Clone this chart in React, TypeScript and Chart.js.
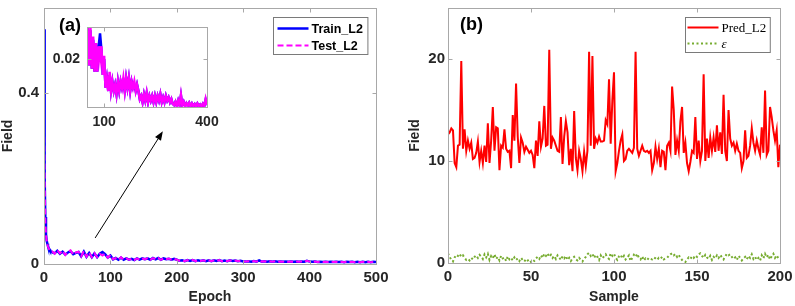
import React, { useEffect, useRef } from 'react';
import { Chart, registerables } from 'chart.js';
Chart.register(...registerables);

// ---------- data: panel (a) ----------
const epochs = [
  0, 1, 2, 3, 4, 5, 6, 7, 8, 9, 10,
  12, 16, 20, 24, 28, 32, 36, 40, 44, 48,
  52, 56, 60, 64, 68, 72, 76, 80, 84, 88, 92, 96, 100,
  104, 108, 112, 116, 120, 124, 128, 132, 136, 140, 144, 148, 152, 156, 160, 164, 168, 172, 176, 180, 184, 188, 192, 196, 200,
  204, 208, 212, 216, 220, 224, 228, 232, 236, 240, 244, 248, 252, 256, 260, 264, 268, 272, 276, 280, 284, 288, 292, 296, 300,
  304, 308, 312, 316, 320, 324, 328, 332, 336, 340, 344, 348, 352, 356, 360, 364, 368, 372, 376, 380, 384, 388, 392, 396, 400,
  404, 408, 412, 416, 420, 424, 428, 432, 436, 440, 444, 448, 452, 456, 460, 464, 468, 472, 476, 480, 484, 488, 492, 496, 500,
];
const trainL2 = [
  0.55, 0.2, 0.11, 0.07, 0.055, 0.048, 0.042, 0.038, 0.035, 0.032, 0.03,
  0.028, 0.025, 0.031, 0.024, 0.029, 0.022, 0.027, 0.03, 0.023, 0.026,
  0.028, 0.018, 0.029, 0.017, 0.026, 0.016, 0.025, 0.016, 0.024, 0.028, 0.023, 0.015, 0.02,
  0.011, 0.014, 0.01, 0.015, 0.01, 0.013, 0.01, 0.012, 0.009, 0.013, 0.01, 0.013, 0.011, 0.013, 0.01, 0.014, 0.011, 0.014, 0.01, 0.013, 0.011, 0.012, 0.01, 0.012, 0.01,
  0.0075, 0.0085, 0.0065, 0.009, 0.007, 0.0093, 0.0065, 0.0085, 0.007, 0.0085, 0.0065, 0.0085, 0.0065, 0.0085, 0.007, 0.009, 0.0065, 0.008, 0.0065, 0.0085, 0.007, 0.008, 0.0065, 0.0075, 0.006,
  0.0056, 0.0066, 0.0053, 0.007, 0.0056, 0.0086, 0.0056, 0.0066, 0.0053, 0.0062, 0.0054, 0.0063, 0.0053, 0.0061, 0.0053, 0.0059, 0.0052, 0.0061, 0.0053, 0.0058, 0.0052, 0.006, 0.0053, 0.0073, 0.0056,
  0.005, 0.0056, 0.0047, 0.0055, 0.0046, 0.0053, 0.0045, 0.0053, 0.0046, 0.0053, 0.0045, 0.0052, 0.0044, 0.0051, 0.0045, 0.0051, 0.0044, 0.0051, 0.0043, 0.005, 0.0044, 0.005, 0.0043, 0.005, 0.0044,
];
const testL2 = [
  0.32, 0.18, 0.1, 0.068, 0.055, 0.047, 0.041, 0.037, 0.034, 0.031, 0.03,
  0.03, 0.024, 0.033, 0.025, 0.031, 0.021, 0.029, 0.032, 0.022, 0.027,
  0.029, 0.018, 0.03, 0.017, 0.027, 0.016, 0.025, 0.016, 0.024, 0.02, 0.024, 0.015, 0.021,
  0.011, 0.014, 0.01, 0.016, 0.01, 0.013, 0.01, 0.012, 0.009, 0.013, 0.01, 0.013, 0.011, 0.014, 0.01, 0.014, 0.011, 0.014, 0.01, 0.013, 0.011, 0.013, 0.01, 0.012, 0.01,
  0.0075, 0.0085, 0.0065, 0.009, 0.007, 0.0095, 0.0065, 0.0085, 0.007, 0.0085, 0.0065, 0.0085, 0.0065, 0.0085, 0.007, 0.009, 0.0065, 0.008, 0.0065, 0.0085, 0.007, 0.008, 0.0065, 0.0075, 0.006,
  0.0056, 0.0066, 0.0053, 0.007, 0.0056, 0.0088, 0.0056, 0.0066, 0.0053, 0.0062, 0.0054, 0.0063, 0.0053, 0.0061, 0.0053, 0.0059, 0.0052, 0.0061, 0.0053, 0.0058, 0.0052, 0.006, 0.0053, 0.0075, 0.0056,
  0.005, 0.0057, 0.0047, 0.0055, 0.0046, 0.0054, 0.0045, 0.0053, 0.0046, 0.0054, 0.0045, 0.0052, 0.0044, 0.0052, 0.0045, 0.0051, 0.0044, 0.0052, 0.0043, 0.005, 0.0044, 0.0051, 0.0043, 0.005, 0.0044,
];
const aXTicks = [0, 100, 200, 300, 400, 500];
const aYTicks = [0, 0.4];
const insetXTicks = [100, 400];
const insetYTicks = [0.02];
const arrowFrom = { x: 77, y: 0.061 };
const arrowTo = { x: 179, y: 0.311 };

// ---------- data: panel (b) ----------
const samples = Array.from({ length: 201 }, (_, i) => i);
const predL2 = [
  12.6, 12.8, 13.2, 13.0, 9.8, 9.4, 11.5, 11.6, 19.8, 11.2, 13.1, 11.0, 12.0, 11.2, 11.8, 10.2, 10.3, 10.8, 11.9, 9.9,
  11.0, 9.8, 11.5, 9.9, 13.7, 9.8, 12.0, 15.3, 11.0, 13.3, 13.2, 9.1, 11.5, 11.3, 13.1, 11.2, 10.9, 11.0, 9.3, 14.5,
  12.0, 17.6, 12.4, 9.8, 12.3, 11.8, 10.9, 11.4, 11.1, 10.8, 11.0, 10.6, 9.3, 12.0, 10.5, 13.9, 11.4, 12.2, 15.4, 11.5,
  11.6, 20.9, 11.2, 12.3, 12.0, 11.5, 11.0, 10.9, 14.3, 9.7, 12.4, 13.9, 12.8, 9.6, 11.2, 9.0, 14.9, 10.3, 9.1, 11.0,
  10.2, 9.0, 10.9, 9.5, 11.0, 20.7, 11.5, 20.3, 11.2, 12.2, 11.8, 12.4, 11.9, 11.9, 12.0, 14.0, 13.6, 18.0, 11.7, 15.9,
  18.7, 9.0, 9.8, 11.0, 12.0, 12.6, 10.0, 10.2, 11.0, 11.2, 11.0, 10.8, 11.3, 20.7, 11.2, 10.5, 11.0, 11.5, 11.0, 10.9,
  11.0, 10.8, 11.0, 9.1, 9.8, 11.4, 10.2, 11.2, 9.4, 11.0, 10.9, 9.1, 11.5, 11.8, 11.0, 17.3, 15.0, 10.6, 12.0, 11.0,
  13.9, 15.3, 10.8, 11.8, 9.8, 9.0, 9.9, 11.0, 10.8, 14.3, 10.2, 12.0, 10.0, 11.0, 18.5, 10.0, 12.2, 10.3, 12.3, 11.0,
  12.3, 10.9, 13.5, 11.0, 12.8, 10.7, 16.5, 11.0, 10.0, 15.0, 12.2, 11.5, 11.8, 11.0, 11.7, 11.0, 10.8, 9.3, 10.0, 13.0,
  10.3, 10.5, 11.5, 13.2, 11.8, 11.0, 12.0, 11.2, 10.6, 13.3, 10.8, 16.9, 10.6, 11.0, 15.3, 14.3, 13.0, 12.0, 13.0, 9.4,
  11.6,
];
const epsilon = [
  0.95, 0.6, 0.3, 0.15, 0.55, 0.8, 0.7, 0.9, 0.6, 0.75, 0.5, 0.3, 0.4, 0.25, 0.5, 0.35, 0.6, 0.75, 0.5, 0.8,
  0.65, 0.4, 0.85, 0.55, 0.9, 0.3, 0.7, 0.5, 0.85, 0.4, 0.6, 0.25, 0.7, 0.45, 0.55, 0.2, 0.65, 0.35, 0.5, 0.25,
  0.55, 0.3, 0.45, 0.2, 0.5, 0.3, 0.15, 0.4, 0.25, 0.35, 0.1, 0.3, 0.2, 0.45, 0.6, 0.4, 0.75, 0.5, 0.9, 0.7,
  0.95, 0.6, 0.8, 0.5, 0.7, 0.4, 0.75, 0.55, 0.3, 0.65, 0.45, 0.7, 0.3, 0.5, 0.2, 0.45, 0.6, 0.35, 0.25, 0.5,
  0.3, 0.15, 0.4, 0.6, 0.85, 1.0, 0.7, 0.9, 0.5, 0.8, 0.6, 0.3, 0.75, 0.45, 0.65, 0.85, 0.55, 0.4, 0.95, 0.7,
  0.9, 0.5, 0.3, 0.65, 0.8, 0.45, 0.7, 0.35, 0.55, 0.75, 0.2, 0.5, 0.8, 0.6, 0.9, 0.5, 0.35, 0.65, 0.25, 0.45,
  0.3, 0.5, 0.4, 0.35, 0.55, 0.45, 0.3, 0.5, 0.4, 0.6, 0.35, 0.45, 0.5, 0.7, 0.85, 0.95, 0.75, 0.9, 0.6, 0.8,
  0.5, 0.3, 0.15, 0.1, 0.35, 0.55, 0.4, 0.65, 0.5, 0.75, 0.6, 0.85, 0.95, 0.7, 0.5, 0.8, 0.55, 0.4, 0.7, 0.3,
  0.6, 0.45, 0.75, 0.5, 0.8, 0.55, 0.35, 0.65, 0.9, 0.75, 0.85, 0.6, 0.4, 0.55, 0.3, 0.7, 0.5, 0.25, 0.45, 0.6,
  0.35, 0.7, 0.5, 0.85, 0.4, 0.6, 0.3, 0.5, 0.25, 0.75, 0.45, 0.9, 0.55, 0.8, 0.35, 0.65, 0.9, 0.5, 0.75, 0.45,
  0.6,
];
const bXTicks = [0, 50, 100, 150, 200];
const bYTicks = [0, 10, 20];

// ---------- styling ----------
const SANS = '"Liberation Sans", Arial, sans-serif';
const SERIF = '"Liberation Serif", "Times New Roman", serif';
const TXT = '#262626';
const AXIS = '#a8a8a8';

const framePlugin = {
  id: 'frame',
  beforeDatasetsDraw(chart: any) {
    const { ctx, chartArea: a } = chart;
    ctx.save();
    ctx.fillStyle = '#ffffff';
    ctx.fillRect(a.left, a.top, a.right - a.left, a.bottom - a.top);
    ctx.restore();
  },
  afterDatasetsDraw(chart: any) {
    const { ctx, chartArea: a, scales } = chart;
    ctx.save();
    ctx.strokeStyle = AXIS;
    ctx.lineWidth = 1;
    const L = Math.round(a.left) + 0.5, R = Math.round(a.right) + 0.5;
    const T = Math.round(a.top) + 0.5, B = Math.round(a.bottom) + 0.5;
    ctx.strokeRect(L, T, R - L, B - T);
    const tl = 4;
    ctx.beginPath();
    scales.x.ticks.forEach((t: any) => {
      const px = Math.round(scales.x.getPixelForValue(t.value)) + 0.5;
      ctx.moveTo(px, B); ctx.lineTo(px, B - tl);
      ctx.moveTo(px, T); ctx.lineTo(px, T + tl);
    });
    scales.y.ticks.forEach((t: any) => {
      const py = Math.round(scales.y.getPixelForValue(t.value)) + 0.5;
      ctx.moveTo(L, py); ctx.lineTo(L + tl, py);
      ctx.moveTo(R, py); ctx.lineTo(R - tl, py);
    });
    ctx.stroke();
    ctx.restore();
  },
};

function legendPlugin(cfg: any) {
  return {
    id: 'boxLegend',
    afterDraw(chart: any) {
      const { ctx, chartArea: a } = chart;
      const ds = chart.data.datasets;
      ctx.save();
      let textW = 0;
      ds.forEach((d: any, i: number) => {
        ctx.font = cfg.fonts[i];
        textW = Math.max(textW, ctx.measureText(d.label).width);
      });
      const w = cfg.padL + cfg.sample + cfg.gap + textW + cfg.padR;
      const h = cfg.height;
      const x0 = Math.round(a.right - cfg.right - w) + 0.5;
      const y0 = Math.round(a.top + cfg.top) + 0.5;
      ctx.fillStyle = '#ffffff';
      ctx.fillRect(x0, y0, w, h);
      ctx.strokeStyle = '#7a7a7a';
      ctx.lineWidth = 1;
      ctx.strokeRect(x0, y0, w, h);
      ds.forEach((d: any, i: number) => {
        const y = y0 + cfg.firstRow + i * cfg.rowH;
        ctx.beginPath();
        ctx.strokeStyle = d.borderColor;
        ctx.lineWidth = d.borderWidth;
        ctx.setLineDash(d.borderDash || []);
        ctx.moveTo(x0 + cfg.padL, y);
        ctx.lineTo(x0 + cfg.padL + cfg.sample, y);
        ctx.stroke();
        ctx.setLineDash([]);
        ctx.font = cfg.fonts[i];
        ctx.fillStyle = '#000000';
        ctx.textBaseline = 'middle';
        ctx.textAlign = 'left';
        ctx.fillText(d.label, x0 + cfg.padL + cfg.sample + cfg.gap, y + 1);
      });
      ctx.restore();
    },
  };
}

function panelLabelPlugin(text: string, dx: number, dy: number) {
  return {
    id: 'panelLabel',
    afterDraw(chart: any) {
      const { ctx, chartArea: a } = chart;
      ctx.save();
      ctx.font = `bold 18px ${SANS}`;
      ctx.fillStyle = '#000000';
      ctx.textBaseline = 'middle';
      ctx.textAlign = 'left';
      ctx.fillText(text, a.left + dx, a.top + dy);
      ctx.restore();
    },
  };
}

const arrowPlugin = {
  id: 'arrow',
  afterDraw(chart: any) {
    const { ctx, scales } = chart;
    const x1 = scales.x.getPixelForValue(arrowFrom.x);
    const y1 = scales.y.getPixelForValue(arrowFrom.y);
    const x2 = scales.x.getPixelForValue(arrowTo.x);
    const y2 = scales.y.getPixelForValue(arrowTo.y);
    const ang = Math.atan2(y2 - y1, x2 - x1);
    const hl = 9, hw = 3.5;
    ctx.save();
    ctx.strokeStyle = '#000000';
    ctx.fillStyle = '#000000';
    ctx.lineWidth = 1;
    ctx.beginPath();
    ctx.moveTo(x1, y1);
    ctx.lineTo(x2 - hl * Math.cos(ang), y2 - hl * Math.sin(ang));
    ctx.stroke();
    ctx.beginPath();
    ctx.moveTo(x2, y2);
    ctx.lineTo(x2 - hl * Math.cos(ang) + hw * Math.sin(ang), y2 - hl * Math.sin(ang) - hw * Math.cos(ang));
    ctx.lineTo(x2 - hl * Math.cos(ang) - hw * Math.sin(ang), y2 - hl * Math.sin(ang) + hw * Math.cos(ang));
    ctx.closePath();
    ctx.fill();
    ctx.restore();
  },
};

function axis(o: any) {
  return {
    type: 'linear',
    min: o.min,
    max: o.max,
    grid: { display: false, drawTicks: false },
    border: { display: false },
    afterBuildTicks: (s: any) => { s.ticks = o.ticks.map((v: number) => ({ value: v })); },
    afterFit: (s: any) => {
      if (o.width != null) s.width = o.width;
      if (o.height != null) s.height = o.height;
      s.paddingTop = 0; s.paddingBottom = 0; s.paddingLeft = 0; s.paddingRight = 0;
    },
    ticks: {
      autoSkip: false,
      maxRotation: 0,
      minRotation: 0,
      padding: o.tickPad,
      color: TXT,
      font: { family: SANS, size: o.tickSize, weight: 'bold' },
      callback: (v: any) => String(v),
    },
    title: o.title
      ? { display: true, text: o.title, color: TXT, font: { family: SANS, size: 14, weight: 'bold' }, padding: o.titlePad }
      : { display: false },
  };
}

function xy(xs: number[], ys: number[]) {
  return xs.map((x, i) => ({ x, y: ys[i] }));
}

function trainTestDatasets(inset: boolean) {
  return [
    { label: 'Train_L2', data: xy(epochs, trainL2), borderColor: '#0000ff', borderWidth: 2.5, pointRadius: 0, order: 2, tension: 0 },
    {
      label: 'Test_L2', data: xy(epochs, testL2), borderColor: '#ff00ff',
      borderWidth: inset ? 2.5 : 2, borderDash: inset ? [] : [6, 3], pointRadius: 0, order: 1, tension: 0,
    },
  ];
}

export default function App() {
  const aRef = useRef<HTMLCanvasElement>(null);
  const insetRef = useRef<HTMLCanvasElement>(null);
  const bRef = useRef<HTMLCanvasElement>(null);

  useEffect(() => {
    const common = { responsive: false, animation: false as const, events: [] as any[] };
    const chartA = new Chart(aRef.current as HTMLCanvasElement, {
      type: 'line',
      data: { datasets: trainTestDatasets(false) as any },
      options: {
        ...common,
        layout: { padding: { top: 8, right: 24, left: 0, bottom: 0 } },
        plugins: { legend: { display: false }, tooltip: { enabled: false } },
        scales: {
          x: axis({ min: 0, max: 500, ticks: aXTicks, height: 42, tickPad: 5, tickSize: 15, title: 'Epoch', titlePad: { top: 0, bottom: 0 } }),
          y: axis({ min: 0, max: 0.6, ticks: aYTicks, width: 44, tickPad: 5, tickSize: 15, title: 'Field', titlePad: { top: 0, bottom: 0 } }),
        } as any,
      },
      plugins: [
        framePlugin,
        arrowPlugin,
        legendPlugin({ fonts: [`bold 12.5px ${SANS}`, `bold 12.5px ${SANS}`], padL: 4, sample: 31, gap: 3, padR: 5, height: 37, firstRow: 11, rowH: 17, right: 9, top: 9 }),
        panelLabelPlugin('(a)', 15, 18),
      ] as any,
    });
    const chartInset = new Chart(insetRef.current as HTMLCanvasElement, {
      type: 'line',
      data: { datasets: trainTestDatasets(true) as any },
      options: {
        ...common,
        layout: { padding: { top: 7, right: 13, left: 0, bottom: 0 } },
        plugins: { legend: { display: false }, tooltip: { enabled: false } },
        scales: {
          x: axis({ min: 50, max: 400, ticks: insetXTicks, height: 25, tickPad: 7, tickSize: 14 }),
          y: axis({ min: 0.005, max: 0.03, ticks: insetYTicks, width: 47, tickPad: 7, tickSize: 14 }),
        } as any,
      },
      plugins: [framePlugin] as any,
    });
    const chartB = new Chart(bRef.current as HTMLCanvasElement, {
      type: 'line',
      data: {
        datasets: [
          { label: 'Pred_L2', data: xy(samples, predL2), borderColor: '#ff0000', borderWidth: 2, pointRadius: 0, tension: 0 },
          { label: 'ε', data: xy(samples, epsilon), borderColor: '#77ac30', borderWidth: 2, borderDash: [2, 2.5], pointRadius: 0, tension: 0 },
        ] as any,
      },
      options: {
        ...common,
        layout: { padding: { top: 8, right: 15, left: 0, bottom: 0 } },
        plugins: { legend: { display: false }, tooltip: { enabled: false } },
        scales: {
          x: axis({ min: 0, max: 200, ticks: bXTicks, height: 43, tickPad: 5, tickSize: 15, title: 'Sample', titlePad: { top: 0, bottom: 0 } }),
          y: axis({ min: 0, max: 25, ticks: bYTicks, width: 48, tickPad: 3, tickSize: 15, title: 'Field', titlePad: { top: 6.6, bottom: 0 } }),
        } as any,
      },
      plugins: [
        framePlugin,
        legendPlugin({ fonts: [`13px ${SERIF}`, `italic 13px ${SERIF}`], padL: 2, sample: 31, gap: 3, padR: 4, height: 35, firstRow: 10, rowH: 16, right: 10, top: 9 }),
        panelLabelPlugin('(b)', 12, 17),
      ] as any,
    });
    return () => {
      chartA.destroy();
      chartInset.destroy();
      chartB.destroy();
    };
  }, []);

  return (
    <div style={{ position: 'fixed', left: 0, top: 0, width: 795, height: 306, background: '#ffffff', overflow: 'hidden' }}>
      <canvas ref={aRef} width={400} height={306} style={{ position: 'absolute', left: 0, top: 0, display: 'block' }} />
      <canvas ref={insetRef} width={180} height={112} style={{ position: 'absolute', left: 40, top: 20, display: 'block' }} />
      <canvas ref={bRef} width={395} height={306} style={{ position: 'absolute', left: 400, top: 0, display: 'block' }} />
    </div>
  );
}
